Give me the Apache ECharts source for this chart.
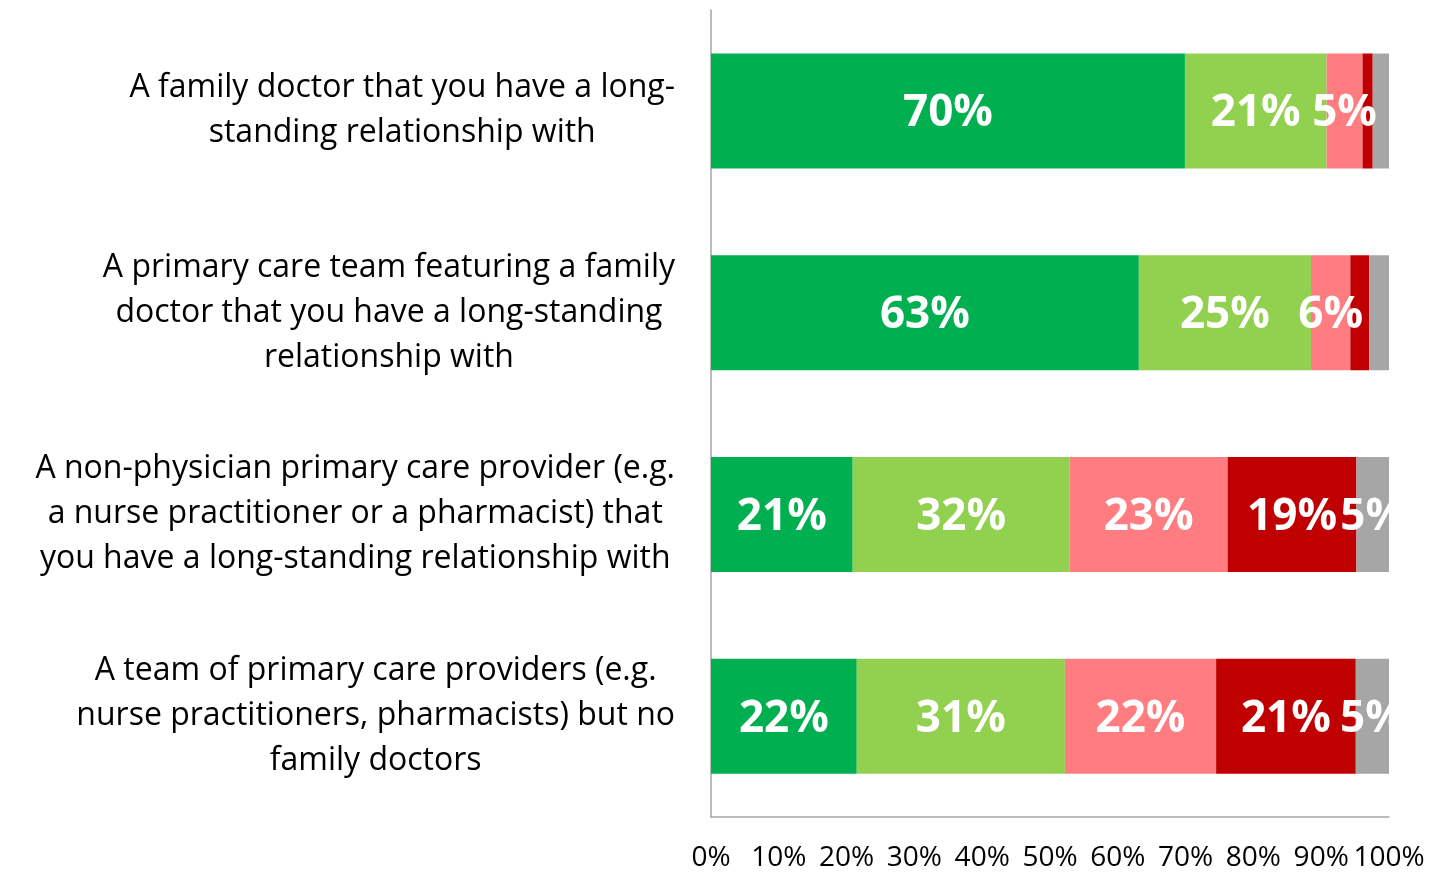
<!DOCTYPE html>
<html>
<head>
<meta charset="utf-8">
<script src="https://cdn.jsdelivr.net/npm/echarts@6/dist/echarts.min.js"></script>
<style>
  html, body { margin: 0; padding: 0; background: #fff; }
  #chart { width: 1430px; height: 872px; }
</style>
</head>
<body>
<div id="chart"></div>
<script>
var categories = [
    'A family doctor that you have a long-\nstanding relationship with',
    'A primary care team featuring a family\ndoctor that you have a long-standing\nrelationship with',
    'A non-physician primary care provider (e.g.\na nurse practitioner or a pharmacist) that\nyou have a long-standing relationship with',
    'A team of primary care providers (e.g.\nnurse practitioners, pharmacists) but no\nfamily doctors'
];
var seriesNames = ['Very comfortable', 'Somewhat comfortable', 'Somewhat uncomfortable', 'Very uncomfortable', "Don't know"];
var veryComfortable = [69.9, 63.1, 20.9, 21.5];
var somewhatComfortable = [20.9, 25.4, 32.0, 30.7];
var somewhatUncomfortable = [5.3, 5.8, 23.3, 22.3];
var veryUncomfortable = [1.5, 2.8, 19.0, 20.6];
var dontKnow = [2.4, 2.9, 4.8, 4.9];
var xTicks = [0, 10, 20, 30, 40, 50, 60, 70, 80, 90, 100];

var colors = ['#00B050', '#92D050', '#FF7C80', '#C00000', '#A6A6A6'];
var allData = [veryComfortable, somewhatComfortable, somewhatUncomfortable, veryUncomfortable, dontKnow];

var myChart = echarts.init(document.getElementById('chart'));

var series = allData.map(function (d, i) {
    return {
        name: seriesNames[i],
        type: 'bar',
        stack: 'total',
        barWidth: 115,
        itemStyle: { color: colors[i] },
        label: {
            show: true,
            position: 'inside',
            offset: [0, 3],
            color: '#fff',
            fontFamily: 'Open Sans',
            fontWeight: 'bold',
            fontSize: 44,
            formatter: function (p) {
                return p.value >= 4.5 ? Math.round(p.value) + '%' : '';  // 小于5%不显示
            }
        },
        data: d
    };
});

myChart.setOption({
    animation: false,
    grid: { left: 711, right: 41, top: 10, bottom: 55 },
    xAxis: {
        type: 'value',
        min: 0,
        max: 100,
        interval: 10,
        axisLine: { show: true, lineStyle: { color: '#A6A6A6', width: 1.5 } },
        axisTick: { show: false },
        splitLine: { show: false },
        axisLabel: {
            margin: 27,
            color: '#000',
            fontFamily: 'Open Sans',
            fontSize: 28,
            formatter: function (v) { return xTicks.indexOf(v) >= 0 ? v + '%' : ''; }
        }
    },
    yAxis: {
        type: 'category',
        inverse: true,
        data: categories,
        axisLine: { show: true, lineStyle: { color: '#A6A6A6', width: 1.5 } },
        axisTick: { show: false },
        axisLabel: {
            margin: 36,
            align: 'right',
            formatter: function (v) {
                return v.split('\n').map(function (s) { return '{a|' + s + '}'; }).join('\n');
            },
            rich: {
                a: {
                    align: 'center',
                    color: '#000',
                    fontFamily: 'Open Sans',
                    fontSize: 32,
                    lineHeight: 45
                }
            }
        }
    },
    graphic: [{
        // 右侧裁掉溢出的标签
        type: 'rect',
        left: 1390,
        top: 0,
        z: 100,
        shape: { width: 40, height: 817 },
        style: { fill: '#fff' }
    }],
    series: series
});
</script>
</body>
</html>
